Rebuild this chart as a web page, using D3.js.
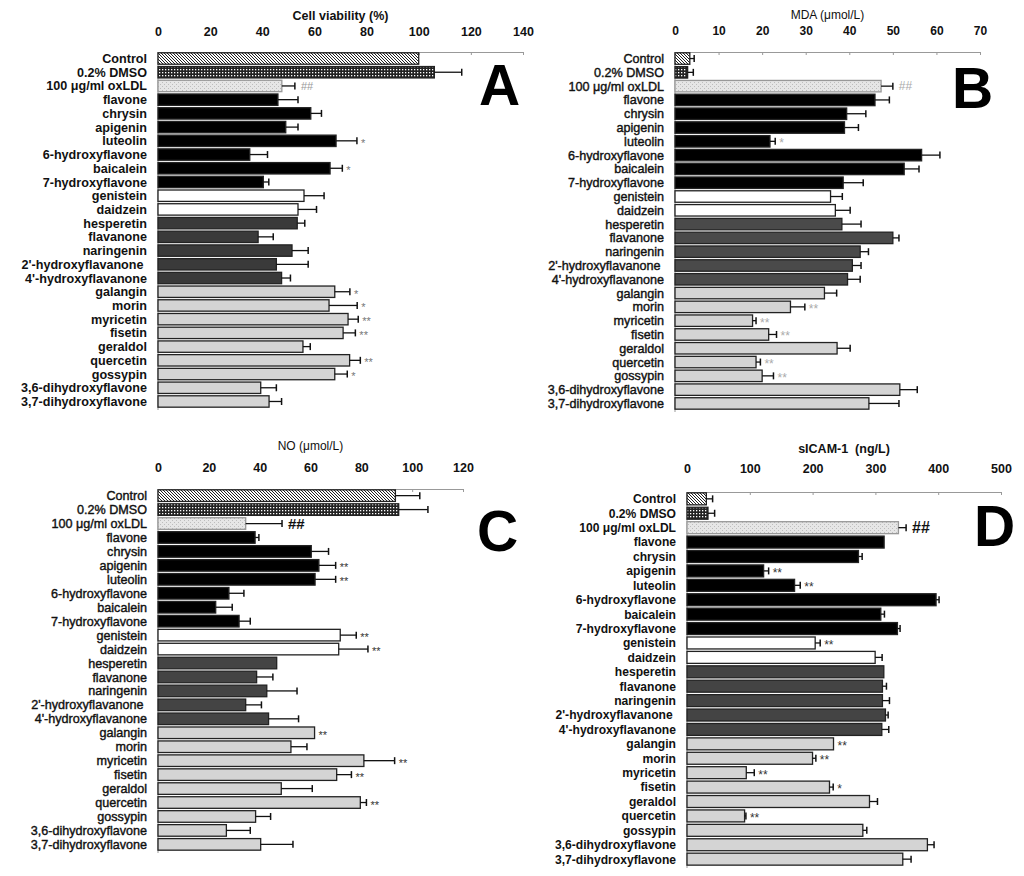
<!DOCTYPE html>
<html>
<head>
<meta charset="utf-8">
<script src="https://cdn.jsdelivr.net/npm/d3@7"></script>
<style>
  body { margin: 0; background: #fff; }
  svg text { font-family: "Liberation Sans", Arial, sans-serif; }
  .lbl { white-space: pre; }
</style>
</head>
<body>
<div id="chart"></div>
<script>
const categories = ["Control", "0.2% DMSO", "100 \u03bcg/ml oxLDL", "flavone", "chrysin", "apigenin",
  "luteolin", "6-hydroxyflavone", "baicalein", "7-hydroxyflavone", "genistein", "daidzein",
  "hesperetin", "flavanone", "naringenin", "2'-hydroxyflavanone ", "4'-hydroxyflavanone",
  "galangin", "morin", "myricetin", "fisetin", "geraldol", "quercetin", "gossypin",
  "3,6-dihydroxyflavone", "3,7-dihydroxyflavone"];

const groups = ["control", "dmso", "oxldl",
  "flavone", "flavone", "flavone", "flavone", "flavone", "flavone", "flavone",
  "isoflavone", "isoflavone",
  "flavanone", "flavanone", "flavanone", "flavanone", "flavanone",
  "flavonol", "flavonol", "flavonol", "flavonol", "flavonol", "flavonol", "flavonol", "flavonol", "flavonol"];

// A - cell viability (%)
const viability = [100, 106, 47.5, 46, 58.6, 49, 68.3, 35.2, 66, 40.4, 56, 53.7,
  53.4, 38.4, 51.4, 45.4, 47.4, 67.8, 65.6, 72.9, 71, 55.6, 73.5, 67.8, 39.4, 42.6];
const viabilityErr = [0, 10.5, 5, 7.7, 4.1, 4.7, 8, 6.8, 4.7, 2.1, 7.7, 7.1,
  2.9, 5.8, 6.2, 12.2, 3.4, 5.8, 10.8, 3.9, 4.7, 2.8, 4.1, 4.8, 6, 4.8];
const viabilitySig = ["", "", "##", "", "", "", "*", "", "*", "", "", "",
  "", "", "", "", "", "*", "*", "**", "**", "", "**", "*", "", ""];
const viabilityTicks = [0, 20, 40, 60, 80, 100, 120, 140];

// B - MDA (umol/L)
const mda = [3.4, 2.9, 47.3, 45.9, 39.4, 38.9, 21.8, 56.6, 52.6, 38.6, 35.7, 36.8,
  38.3, 50, 42.5, 40.7, 39.6, 34.3, 26.5, 17.8, 21.5, 37.2, 18.6, 20.0, 51.6, 44.5];
const mdaErr = [1.0, 1.3, 2.7, 3.3, 4.4, 3.2, 1.2, 4.2, 3.4, 4.6, 2.7, 3.4,
  4.4, 1.4, 1.9, 2.0, 2.9, 2.8, 3.3, 0.8, 1.8, 3.0, 1.0, 2.6, 4.0, 6.9];
const mdaSig = ["", "", "##", "", "", "", "*", "", "", "", "", "",
  "", "", "", "", "", "", "**", "**", "**", "", "**", "**", "", ""];
const mdaTicks = [0, 10, 20, 30, 40, 50, 60, 70];

// C - NO (umol/L)
const no = [93.4, 94.7, 34.5, 38.2, 60.3, 63.3, 61.8, 27.9, 22.7, 31.9, 71.7, 71.1,
  46.7, 38.8, 42.8, 34.5, 43.5, 61.6, 52.3, 81, 70.3, 48.5, 79.6, 38.4, 26.9, 40.4];
const noErr = [9.6, 11.5, 14.3, 1.5, 6.8, 6.6, 8.1, 5.9, 6.5, 4.4, 6.3, 11.5,
  0, 6.4, 11.9, 6.2, 11.8, 0, 6.3, 12.1, 5.8, 12.2, 2.4, 5.9, 9.4, 12.7];
const noSig = ["", "", "##", "", "", "**", "**", "", "", "", "**", "**",
  "", "", "", "", "", "**", "", "**", "**", "", "**", "", "", ""];
const noTicks = [0, 20, 40, 60, 80, 100, 120];

// D - sICAM-1 (ng/L)
const icam = [30.8, 33.4, 336.7, 313.9, 273, 122, 171.3, 396.6, 308.6, 335.1, 204.1, 299.6,
  313.4, 311.2, 311.2, 316, 310.2, 233.3, 199.9, 94.4, 226.9, 290.6, 91.7, 280, 382.8, 343.6];
const icamErr = [10, 10.6, 12.2, 0, 5.9, 8, 9, 4.8, 5.8, 4.2, 8, 11.1,
  0, 6.4, 11.2, 4.3, 11.1, 0, 5.3, 12.7, 5.9, 12.7, 2.1, 6.3, 10.6, 13.2];
const icamSig = ["", "", "##", "", "", "**", "**", "", "", "", "**", "",
  "", "", "", "", "", "**", "**", "**", "*", "", "**", "", "", ""];
const icamTicks = [0, 100, 200, 300, 400, 500];

const panels = [
  { letter: "A", title: "Cell viability (%)", values: viability, errors: viabilityErr, sig: viabilitySig, ticks: viabilityTicks,
    left: 158, right: 523, top: 52, bottom: 408, titleY: 20, titleWeight: "bold", titleSize: 12.5, tickPad: 16, tickSize: 12.5,
    labelWeight: "bold", labelSize: 12.6, labelStroke: 0, dark: "#3a3a3a", starColor: "#777", starSize: 11, hashColor: "#999", hashSize: 11, hashWeight: "normal",
    letterX: 479, letterY: 105 },
  { letter: "B", title: "MDA (\u03bcmol/L)", values: mda, errors: mdaErr, sig: mdaSig, ticks: mdaTicks,
    left: 675, right: 980, top: 52, bottom: 410, titleY: 19, titleWeight: "normal", titleSize: 12, tickPad: 17, tickSize: 12,
    labelWeight: "normal", labelSize: 12.6, labelStroke: 0.4, dark: "#4a4a4a", starColor: "#aaa", starSize: 12, hashColor: "#aaa", hashSize: 12, hashWeight: "normal",
    letterX: 952, letterY: 108 },
  { letter: "C", title: "NO (\u03bcmol/L)", values: no, errors: noErr, sig: noSig, ticks: noTicks,
    left: 158, right: 463, top: 489, bottom: 851, titleY: 450, titleWeight: "normal", titleSize: 12, tickPad: 17, tickSize: 12.5,
    labelWeight: "normal", labelSize: 12.6, labelStroke: 0.4, dark: "#444", starColor: "#333", starSize: 11, hashColor: "#111", hashSize: 15, hashWeight: "bold",
    letterX: 477, letterY: 551 },
  { letter: "D", title: "sICAM-1  (ng/L)", values: icam, errors: icamErr, sig: icamSig, ticks: icamTicks,
    left: 687, right: 1001, top: 492, bottom: 866, titleY: 453, titleWeight: "bold", titleSize: 12.5, tickPad: 19, tickSize: 12.5,
    labelWeight: "bold", labelSize: 12.1, labelStroke: 0, dark: "#444", starColor: "#333", starSize: 12, hashColor: "#111", hashSize: 16, hashWeight: "bold",
    letterX: 974, letterY: 546 }
];

const svg = d3.select("#chart").append("svg")
  .attr("width", 1024)
  .attr("height", 876);

// fill patterns for the control bars
const defs = svg.append("defs");

const hatch = defs.append("pattern").attr("id", "hatch")
  .attr("patternUnits", "userSpaceOnUse").attr("width", 3).attr("height", 3);
hatch.append("rect").attr("width", 3).attr("height", 3).attr("fill", "#fff");
hatch.append("path").attr("d", "M-1,-1L4,4M-1,2L1,4M2,-1L4,1")
  .attr("stroke", "#222").attr("stroke-width", 1);

const checker = defs.append("pattern").attr("id", "checker")
  .attr("patternUnits", "userSpaceOnUse").attr("width", 3).attr("height", 3);
checker.append("rect").attr("width", 3).attr("height", 3).attr("fill", "#222");
checker.append("rect").attr("width", 1.3).attr("height", 1.3).attr("fill", "#fff");

const dots = defs.append("pattern").attr("id", "dots")
  .attr("patternUnits", "userSpaceOnUse").attr("width", 4).attr("height", 4);
dots.append("rect").attr("width", 4).attr("height", 4).attr("fill", "#e6e6e6");
dots.append("rect").attr("width", 1).attr("height", 1).attr("fill", "#bdbdbd");
dots.append("rect").attr("x", 2).attr("y", 2).attr("width", 1).attr("height", 1).attr("fill", "#bdbdbd");

const fillFor = (g, p) => {
  if (g === "control") return "url(#hatch)";
  if (g === "dmso") return "url(#checker)";
  if (g === "oxldl") return "url(#dots)";
  if (g === "flavone") return "#000";
  if (g === "isoflavone") return "#fff";
  if (g === "flavanone") return p.dark;
  return "#d4d4d4";
};

panels.forEach(p => {
  const x = d3.scaleLinear()
    .domain([0, d3.max(p.ticks)])
    .range([p.left, p.right]);

  const y = d3.scaleBand()
    .domain(categories)
    .range([p.top, p.bottom])
    .paddingInner(0.17)
    .paddingOuter(0.06);

  const g = svg.append("g");

  const rows = categories.map((c, i) => ({
    name: c, group: groups[i], value: p.values[i], err: p.errors[i], sig: p.sig[i]
  }));

  // top axis
  const axis = g.append("g")
    .attr("transform", `translate(0,${p.top})`)
    .call(d3.axisTop(x).tickValues(p.ticks).tickSize(-3).tickPadding(p.tickPad));
  axis.select(".domain").attr("stroke", "#999");
  axis.selectAll(".tick line").attr("stroke", "#999");
  axis.selectAll(".tick text")
    .attr("fill", "#111")
    .style("font-size", p.tickSize + "px")
    .style("font-weight", "bold")
    .style("font-family", '"Liberation Sans", Arial, sans-serif');

  g.append("text")
    .attr("x", (p.left + p.right) / 2)
    .attr("y", p.titleY)
    .attr("text-anchor", "middle")
    .attr("fill", "#111")
    .style("font-size", p.titleSize + "px")
    .style("font-weight", p.titleWeight)
    .style("white-space", "pre")
    .text(p.title);

  // left axis line
  g.append("line")
    .attr("x1", p.left).attr("x2", p.left)
    .attr("y1", p.top).attr("y2", p.bottom + 2)
    .attr("stroke", "#999");

  g.selectAll(".lbl")
    .data(rows)
    .enter()
    .append("text")
    .attr("class", "lbl")
    .attr("x", p.left - 11)
    .attr("y", d => y(d.name) + y.bandwidth() / 2)
    .attr("dy", "0.36em")
    .attr("text-anchor", "end")
    .attr("fill", "#111")
    .attr("stroke", p.labelStroke ? "#111" : "none")
    .attr("stroke-width", p.labelStroke)
    .style("font-size", p.labelSize + "px")
    .style("font-weight", p.labelWeight)
    .text(d => d.name);

  g.selectAll(".bar")
    .data(rows)
    .enter()
    .append("rect")
    .attr("class", "bar")
    .attr("x", x(0))
    .attr("y", d => y(d.name))
    .attr("width", d => x(d.value) - x(0))
    .attr("height", y.bandwidth())
    .attr("fill", d => fillFor(d.group, p))
    .attr("stroke", d => d.group === "oxldl" ? "#999" : "#222")
    .attr("stroke-width", 1.3);

  const withErr = rows.filter(d => d.err > 0);
  const cy = d => y(d.name) + y.bandwidth() / 2;

  g.selectAll(".err")
    .data(withErr)
    .enter()
    .append("line")
    .attr("x1", d => x(d.value))
    .attr("x2", d => x(d.value + d.err))
    .attr("y1", cy)
    .attr("y2", cy)
    .attr("stroke", "#111")
    .attr("stroke-width", 1.3);

  g.selectAll(".cap")
    .data(withErr)
    .enter()
    .append("line")
    .attr("x1", d => x(d.value + d.err))
    .attr("x2", d => x(d.value + d.err))
    .attr("y1", d => cy(d) - 3.5)
    .attr("y2", d => cy(d) + 3.5)
    .attr("stroke", "#111")
    .attr("stroke-width", 1.5);

  g.selectAll(".sig")
    .data(rows.filter(d => d.sig))
    .enter()
    .append("text")
    .attr("x", d => x(d.value + d.err) + (d.sig === "##" ? 6 : 4))
    .attr("y", d => d.sig === "##" ? cy(d) + p.hashSize * 0.36 : cy(d) + 6)
    .attr("fill", d => d.sig === "##" ? p.hashColor : p.starColor)
    .style("font-size", d => (d.sig === "##" ? p.hashSize : p.starSize) + "px")
    .style("font-weight", d => d.sig === "##" ? p.hashWeight : "normal")
    .text(d => d.sig);

  g.append("text")
    .attr("x", p.letterX)
    .attr("y", p.letterY)
    .attr("fill", "#000")
    .style("font-size", "57px")
    .style("font-weight", "bold")
    .text(p.letter);
});
</script>
</body>
</html>
